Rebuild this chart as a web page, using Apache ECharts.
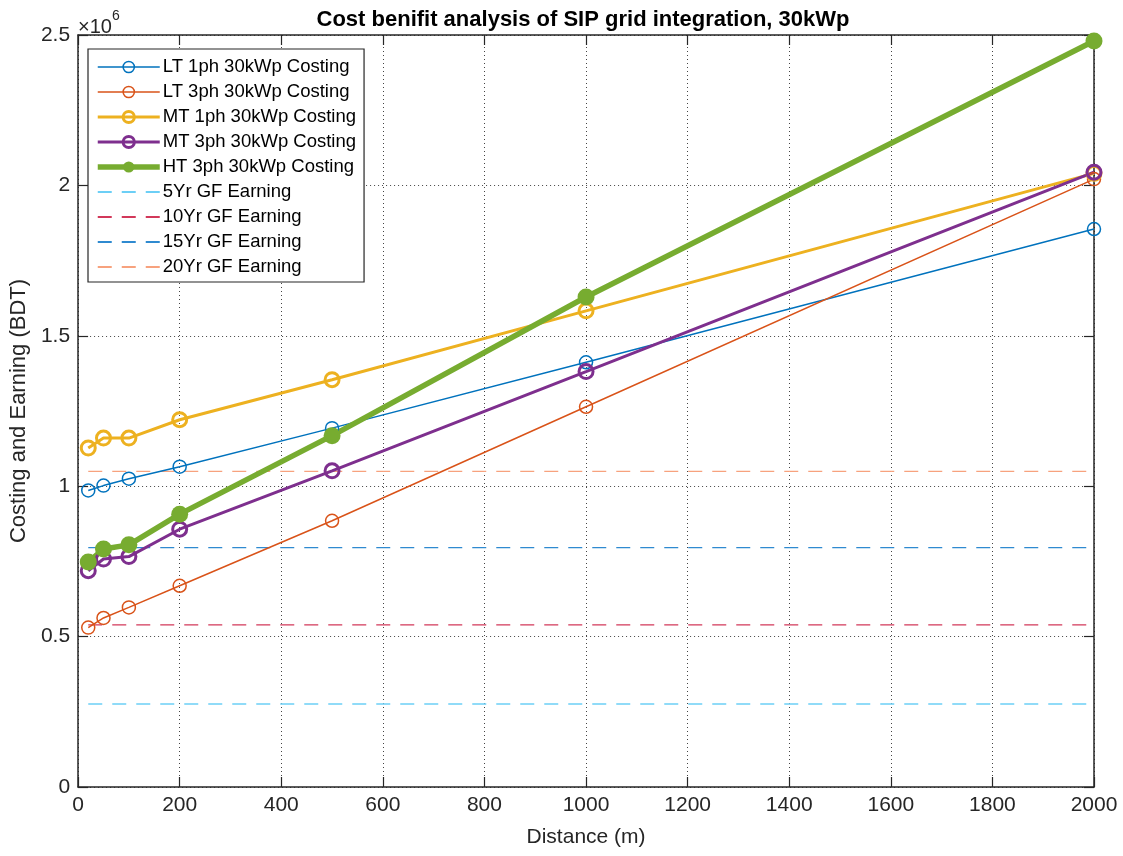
<!DOCTYPE html>
<html>
<head>
<meta charset="utf-8">
<script src="https://cdn.jsdelivr.net/npm/echarts@6/dist/echarts.min.js"></script>
<style>html,body{margin:0;padding:0;background:#fff}#c{width:1123px;height:856px}</style>
</head>
<body>
<div id="c"></div>
<script>
const distances = [20, 50, 100, 200, 500, 1000, 2000];
const lt1ph = [986000, 1002000, 1025000, 1065000, 1193000, 1412000, 1855000];
const lt3ph = [530000, 562000, 597000, 669000, 885000, 1264000, 2021000];
const mt1ph = [1127000, 1160000, 1160000, 1221000, 1354000, 1583000, 2040000];
const mt3ph = [719000, 758000, 766000, 857000, 1051000, 1381000, 2044000];
const ht3ph = [748000, 791000, 805000, 907000, 1168000, 1629000, 2480000];
const earn5 = 276000, earn10 = 539000, earn15 = 796000, earn20 = 1049000;
const xTicks = [0, 200, 400, 600, 800, 1000, 1200, 1400, 1600, 1800, 2000];
const yTicks = ['0', '0.5', '1', '1.5', '2', '2.5'];

const pair = arr => distances.map((d, i) => [d, arr[i]]);
const flat = v => distances.map(d => [d, v]);

const font = 'Liberation Sans, Arial, sans-serif';
function costSeries(name, data, color, lw, size, filled, bw) {
  return {
    name, type: 'line', data: pair(data), symbol: 'circle', symbolSize: size,
    lineStyle: { color, width: lw },
    itemStyle: { color: filled ? color : 'rgba(255,255,255,0)', borderColor: color, borderWidth: filled ? 0 : bw },
    emphasis: { disabled: true }, z: 3
  };
}
function earnSeries(name, v, color) {
  return {
    name, type: 'line', data: flat(v), symbol: 'none',
    lineStyle: { color, width: 1.3, type: [14, 10] },
    itemStyle: { color: 'rgba(0,0,0,0)', borderWidth: 0 },
    emphasis: { disabled: true }, z: 2
  };
}
const tickStyle = { show: true, inside: true, length: 10, lineStyle: { color: '#262626', width: 1.2 } };
const lineStyleAx = { show: true, onZero: false, lineStyle: { color: '#262626', width: 1.5 } };
const gridLine = { show: true, lineStyle: { color: '#444', type: [1, 3], width: 1 } };
const hidden = n => ({ name: n, itemStyle: { opacity: 0 } });
const legItem = (n, lw, bw) => ({ name: n, lineStyle: { width: lw }, itemStyle: { borderWidth: bw } });

const chart = echarts.init(document.getElementById('c'));
chart.setOption({
  animation: false,
  backgroundColor: '#fff',
  title: {
    text: 'Cost benifit analysis of SIP grid integration, 30kWp',
    left: 578, top: 4, textAlign: 'center',
    textStyle: { fontFamily: font, fontSize: 22, fontWeight: 'bold', color: '#000' }
  },
  grid: { left: 76, right: 29, top: 35, bottom: 69 },
  legend: {
    orient: 'vertical', left: 88, top: 49,
    backgroundColor: '#fff', borderColor: '#262626', borderWidth: 1.2,
    padding: [8, 8, 5, 7], itemGap: 5, itemWidth: 62, itemHeight: 14,
    textStyle: { fontFamily: font, fontSize: 18.5, lineHeight: 20, color: '#000', padding: [0, 0, 0, -2] },
    data: [legItem('LT 1ph 30kWp Costing', 1.5, 1.5), legItem('LT 3ph 30kWp Costing', 1.5, 1.5),
      legItem('MT 1ph 30kWp Costing', 3, 3), legItem('MT 3ph 30kWp Costing', 3, 3), legItem('HT 3ph 30kWp Costing', 5.5, 0),
      hidden('5Yr GF Earning'), hidden('10Yr GF Earning'), hidden('15Yr GF Earning'), hidden('20Yr GF Earning')]
  },
  xAxis: [
    {
      type: 'value', min: 0, max: 2000, interval: 200, position: 'bottom',
      axisLine: lineStyleAx, axisTick: tickStyle,
      name: 'Distance (m)', nameLocation: 'middle', nameGap: 40,
      nameTextStyle: { fontFamily: font, fontSize: 21, color: '#262626' },
      axisLabel: { fontFamily: font, fontSize: 21, color: '#262626', margin: 8, formatter: v => String(v) },
      splitLine: gridLine
    },
    {
      type: 'value', min: 0, max: 2000, interval: 200, position: 'top',
      axisLine: lineStyleAx, axisTick: tickStyle,
      axisLabel: { show: false }, splitLine: { show: false }
    }
  ],
  yAxis: [
    {
      type: 'value', min: 0, max: 2500000, interval: 500000, position: 'left',
      axisLine: lineStyleAx, axisTick: tickStyle,
      name: 'Costing and Earning (BDT)', nameLocation: 'middle', nameGap: 46,
      nameTextStyle: { fontFamily: font, fontSize: 22, color: '#262626' },
      axisLabel: { fontFamily: font, fontSize: 21, color: '#262626', margin: 8,
        formatter: v => yTicks[Math.round(v / 500000)] },
      splitLine: gridLine
    },
    {
      type: 'value', min: 0, max: 2500000, interval: 500000, position: 'right',
      axisLine: lineStyleAx, axisTick: tickStyle,
      axisLabel: { show: false }, splitLine: { show: false }
    }
  ],
  graphic: [{
    type: 'text', left: 78, top: 9,
    style: {
      text: '{a|×10}{b|6}', fill: '#262626',
      rich: {
        a: { fontFamily: font, fontSize: 20, fill: '#262626', padding: [8, 0, 0, 0] },
        b: { fontFamily: font, fontSize: 14, fill: '#262626', verticalAlign: 'top' }
      }
    }
  }],
  series: [
    costSeries('LT 1ph 30kWp Costing', lt1ph, '#0072BD', 1.5, 13, false, 1.5),
    costSeries('LT 3ph 30kWp Costing', lt3ph, '#D95319', 1.5, 13, false, 1.5),
    costSeries('MT 1ph 30kWp Costing', mt1ph, '#EDB120', 3, 14, false, 3),
    costSeries('MT 3ph 30kWp Costing', mt3ph, '#7E2F8E', 3, 14, false, 3),
    costSeries('HT 3ph 30kWp Costing', ht3ph, '#77AC30', 5.5, 17, true, 0),
    earnSeries('5Yr GF Earning', earn5, '#6CCFF6'),
    earnSeries('10Yr GF Earning', earn10, '#D2385A'),
    earnSeries('15Yr GF Earning', earn15, '#2F8AD0'),
    earnSeries('20Yr GF Earning', earn20, '#F7A27E')
  ]
});
</script>
</body>
</html>
